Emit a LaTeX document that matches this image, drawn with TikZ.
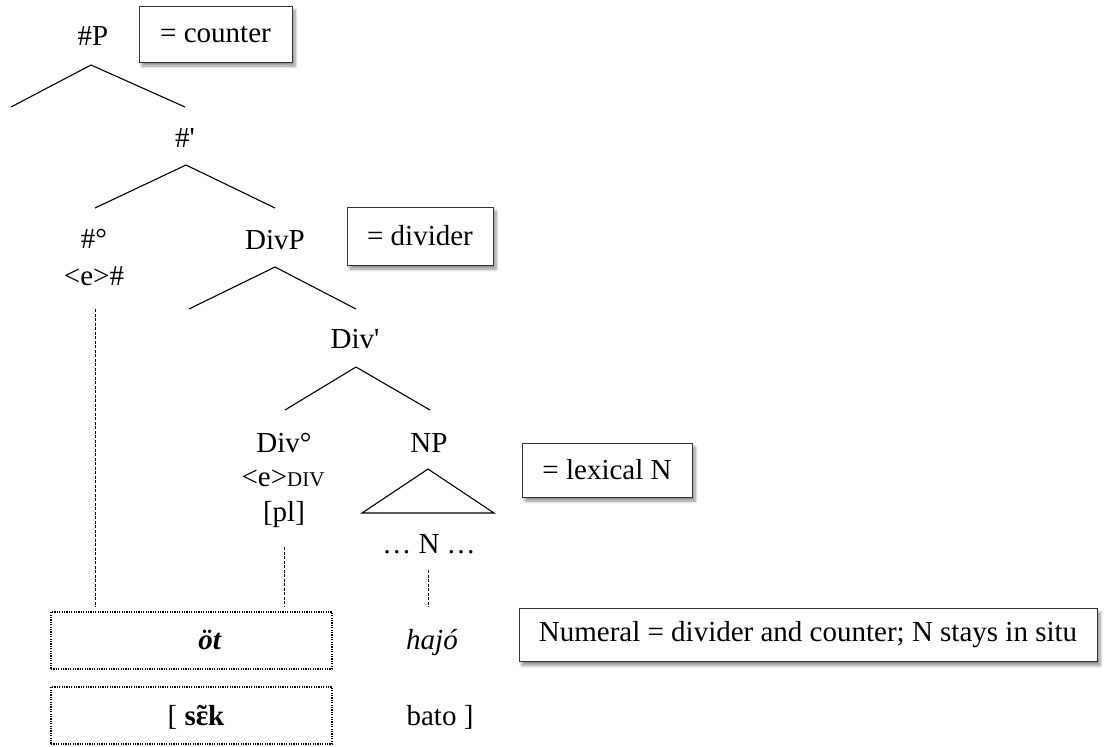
\documentclass[tikz,border=0pt]{standalone}
\usepackage{fontspec}
\setmainfont{Liberation Serif}
\usetikzlibrary{shadows.blur}
\begin{document}
\begin{tikzpicture}[x=1pt,y=-1pt,
  lbl/.style={anchor=base, inner sep=0pt, font=\fontsize{29}{33}\selectfont},
  keybox/.style={draw=black!80, line width=0.9pt, fill=white, inner sep=0pt,
    font=\fontsize{29}{33}\selectfont,
    blur shadow={shadow xshift=3pt, shadow yshift=-4pt, shadow blur steps=6,
      shadow blur radius=3pt, shadow opacity=45}},
  branch/.style={line width=1.1pt},
  dotbox/.style={draw, dash pattern=on 1.2pt off 1.2pt, line width=1.2pt, inner sep=0pt},
  trace/.style={dash pattern=on 3pt off 1.5pt, line width=0.9pt}]
\useasboundingbox (0,0) rectangle (1104,747);

% key boxes
\node[keybox, minimum width=153pt, minimum height=56pt] (cntbox) at (215.5,34) {= counter};
\node[keybox, minimum width=146pt, minimum height=58pt] (divbox) at (420,236) {= divider};
\node[keybox, minimum width=170pt, minimum height=54pt] (lexbox) at (607,470) {= lexical N};
\node[keybox, minimum width=578pt, minimum height=53pt] (numbox) at (808,635) {Numeral = divider and counter; N stays in situ};

% tree labels
\node[lbl] (P) at (93,45) {\#P};
\node[lbl] (Pbar) at (185,147) {\#\textquotesingle};
\node[lbl] (Num) at (94,248) {\#°};
\node[lbl] (Nume) at (94,285) {<e>\#};
\node[lbl] (DivP) at (275,249) {DivP};
\node[lbl] (Divbar) at (355,348) {Div\textquotesingle};
\node[lbl] (Div) at (284,452) {Div°};
\node[lbl] (Dive) at (283,486) {<e>{\fontsize{21}{24}\selectfont DIV}};
\node[lbl] (pl) at (284,521) {[pl]};
\node[lbl] (NP) at (429,452) {NP};
\node[lbl] (N) at (429,553) {… N …};

% branch points
\coordinate (Pa) at (91,65);
\coordinate (Pl) at (11,107);
\coordinate (Pr) at (185,107);
\coordinate (Pbara) at (186,165);
\coordinate (Pbarl) at (95,208);
\coordinate (Pbarr) at (275,208);
\coordinate (DivPa) at (275,267);
\coordinate (DivPl) at (189,309);
\coordinate (DivPr) at (356,309);
\coordinate (Divbara) at (356,367);
\coordinate (Divbarl) at (285,410);
\coordinate (Divbarr) at (430,410);
\coordinate (tria) at (428,469);
\coordinate (tril) at (362,513);
\coordinate (trir) at (494,513);

\draw[branch] (Pl) -- (Pa) -- (Pr);
\draw[branch] (Pbarl) -- (Pbara) -- (Pbarr);
\draw[branch] (DivPl) -- (DivPa) -- (DivPr);
\draw[branch] (Divbarl) -- (Divbara) -- (Divbarr);
\draw[branch] (tria) -- (tril) -- (trir) -- cycle;

% spell-out boxes
\node[dotbox, minimum width=281pt, minimum height=57pt] (otbox) at (191.5,640.5) {};
\node[dotbox, minimum width=281pt, minimum height=57pt] (sekbox) at (191.5,715.5) {};
\node[lbl] (ot) at (210,649) {\textbf{\textit{öt}}};
\node[lbl] (hajo) at (432,649) {\textit{hajó}};
\node[lbl] (sek) at (196,725) {[ \textbf{s\accent"02DC ɛk}};
\node[lbl] (bato) at (440,725) {bato ]};

% traces
\coordinate (t1) at (95,309);
\coordinate (t2) at (284,547);
\coordinate (t3) at (428,570);
\draw[trace] (t1) -- ([yshift=5pt]t1 |- otbox.north);
\draw[trace] (t2) -- ([yshift=5pt]t2 |- otbox.north);
\draw[trace] (t3) -- ([yshift=5pt]t3 |- otbox.north);
\end{tikzpicture}
\end{document}
